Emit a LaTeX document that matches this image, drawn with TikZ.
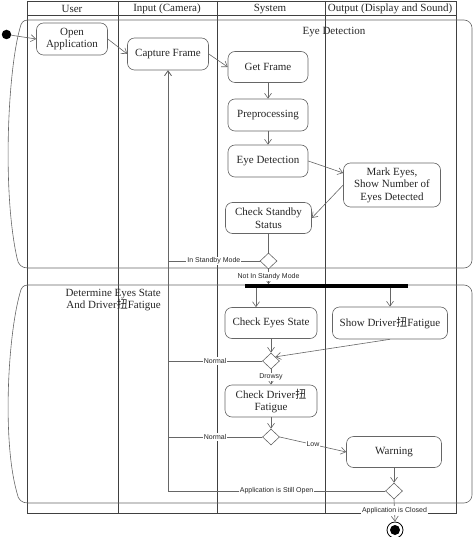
\documentclass[tikz,border=0pt]{standalone}
\usepackage{fontspec}
\setmainfont{Liberation Serif}
\newfontfamily\lblfont{Liberation Sans}
\newfontfamily\cjk{Noto Sans CJK SC}
\usetikzlibrary{shapes.geometric,arrows.meta,calc}
\newcommand{\nfont}{\fontsize{11}{12.5}\selectfont}
\newcommand{\qiu}{{\cjk 扭}}
\begin{document}
\begin{tikzpicture}[x=1pt,y=-1pt,
  lane/.style={draw=black!75,line width=0.6pt},
  region/.style={draw=black!60,line width=0.6pt},
  act/.style={draw=black!60,line width=0.6pt,fill=white,rounded corners=7pt,align=center,font=\nfont,inner sep=1pt,text=black!85},
  dec/.style={draw=black!60,line width=0.6pt,fill=white,diamond,inner sep=0pt,minimum width=17pt,minimum height=16pt},
  flow/.style={draw=black!60,line width=0.6pt,-{Straight Barb[length=5pt,width=7pt]}},
  plain/.style={draw=black!60,line width=0.6pt},
  lbl/.style={font=\lblfont\fontsize{7}{8}\selectfont,fill=white,inner sep=1pt,text=black!85},
  hdr/.style={font=\nfont,text=black!85,inner sep=0pt},
]
\useasboundingbox (0,0) rectangle (474,537);

% swimlanes
\draw[lane] (27,1) rectangle (456,513);
\draw[lane] (27,15) -- (456,15);
\foreach \x in {118,217,325} \draw[lane] (\x,1) -- (\x,513);
\node[hdr] (hUser) at (72,9) {User};
\node[hdr] (hInput) at (167,9) {Input (Camera)};
\node[hdr] (hSystem) at (270,9) {System};
\node[hdr] (hOutput) at (390,9) {Output (Display and Sound)};

% regions
\draw[region,rounded corners=8pt] (28,268) -- (472,268) -- (472,20) -- (28,20);
\draw[region] (28,20) .. controls (23,20) and (21,23) .. (20,28) .. controls (8,70) and (2,190) .. (17,258) .. controls (18,265) and (22,268) .. (28,268);
\draw[region,rounded corners=8pt] (28,503) -- (472,503) -- (472,285) -- (28,285);
\draw[region] (28,285) .. controls (23,285) and (21,288) .. (20,293) .. controls (8,335) and (2,440) .. (17,493) .. controls (18,500) and (22,503) .. (28,503);
\node[hdr] (rEye) at (334,32) {Eye Detection};
\node[hdr,align=right,anchor=east] (rDet) at (161,300) {Determine Eyes State\\And Driver\qiu{}Fatigue};

% nodes
\node[circle,fill=black,minimum size=9.5pt,inner sep=0pt] (start) at (6.5,34.5) {};
\node[act,minimum width=71pt,minimum height=32pt] (open) at (72,39) {Open\\Application};
\node[act,minimum width=81pt,minimum height=32pt] (capture) at (168,54) {Capture Frame};
\node[act,minimum width=80pt,minimum height=31pt] (getframe) at (268,67) {Get Frame};
\node[act,minimum width=80pt,minimum height=32pt] (preproc) at (268,115) {Preprocessing};
\node[act,minimum width=80pt,minimum height=32pt] (eyedet) at (268,161) {Eye Detection};
\node[act,minimum width=86pt,minimum height=31pt] (standby) at (268.5,218) {Check Standby\\Status};
\node[act,minimum width=97pt,minimum height=44pt] (mark) at (392,185) {Mark Eyes,\\Show Number of\\Eyes Detected};
\node[dec] (d1) at (268.5,261) {};
\node[fill=black,minimum width=163pt,minimum height=3.2pt,inner sep=0pt] (bar) at (326.5,286) {};
\node[act,minimum width=92pt,minimum height=31pt] (checkeyes) at (271,323) {Check Eyes State};
\node[act,minimum width=115pt,minimum height=32pt] (showdriver) at (390,323) {Show Driver\qiu{}Fatigue};
\node[dec] (d2) at (271,361) {};
\node[act,minimum width=92pt,minimum height=32pt] (cdf) at (271,401) {Check Driver\qiu\\Fatigue};
\node[dec] (d3) at (271,437) {};
\node[act,minimum width=95pt,minimum height=31pt] (warning) at (394,452) {Warning};
\node[dec] (d4) at (394,491) {};
\node[circle,draw=black,line width=0.8pt,fill=white,minimum size=16pt,inner sep=0pt] (end) at (395,530) {};
\node[circle,fill=black,minimum size=10pt,inner sep=0pt] (endDot) at (end) {};
\coordinate (ceTop) at ($(checkeyes.north)+(-15,0)$);

% connectors
\draw[flow] (start) -- (open.west);
\draw[flow] (open.east) -- (capture.west);
\draw[flow] (capture.east) -- (getframe.west);
\draw[flow] (getframe) -- (preproc);
\draw[flow] (preproc) -- (eyedet);
\draw[flow] (eyedet.east) -- ($(mark.west)+(0,-12)$);
\draw[flow] (mark.west) -- (standby.east);
\draw[plain] (standby.south) -- (d1.north);
\draw[flow] (d1.west) -| node[lbl,pos=0.25] (lStandby) {In Standby Mode} (capture.south);
\draw[flow] (d1.south) -- node[lbl] (lNotStandby) {Not In Standy Mode} (d1.south |- bar.north);
\draw[flow] (ceTop |- bar.south) -- (ceTop);
\draw[flow] (showdriver.north |- bar.south) -- (showdriver.north);
\draw[flow] (checkeyes.south) -- (d2.north);
\draw[flow] (showdriver.south) -- (d2.north east);
\draw[plain] (d2.west) -- node[lbl] (lNormal1) {Normal} (d2.west -| capture.south);
\draw[flow] (d2.south) -- node[lbl] (lDrowsy) {Drowsy} (cdf.north);
\draw[flow] (cdf.south) -- (d3.north);
\draw[plain] (d3.west) -- node[lbl] (lNormal2) {Normal} (d3.west -| capture.south);
\draw[flow] (d3.east) -- node[lbl] (lLow) {Low} (warning.west);
\draw[flow] (warning.south) -- (d4.north);
\draw[flow] (d4.west) -| node[lbl,pos=0.25] (lOpen) {Application is Still Open} (capture.south);
\draw[flow] (d4.south) -- node[lbl] (lClosed) {Application is Closed} (end.north);
\end{tikzpicture}
\end{document}
